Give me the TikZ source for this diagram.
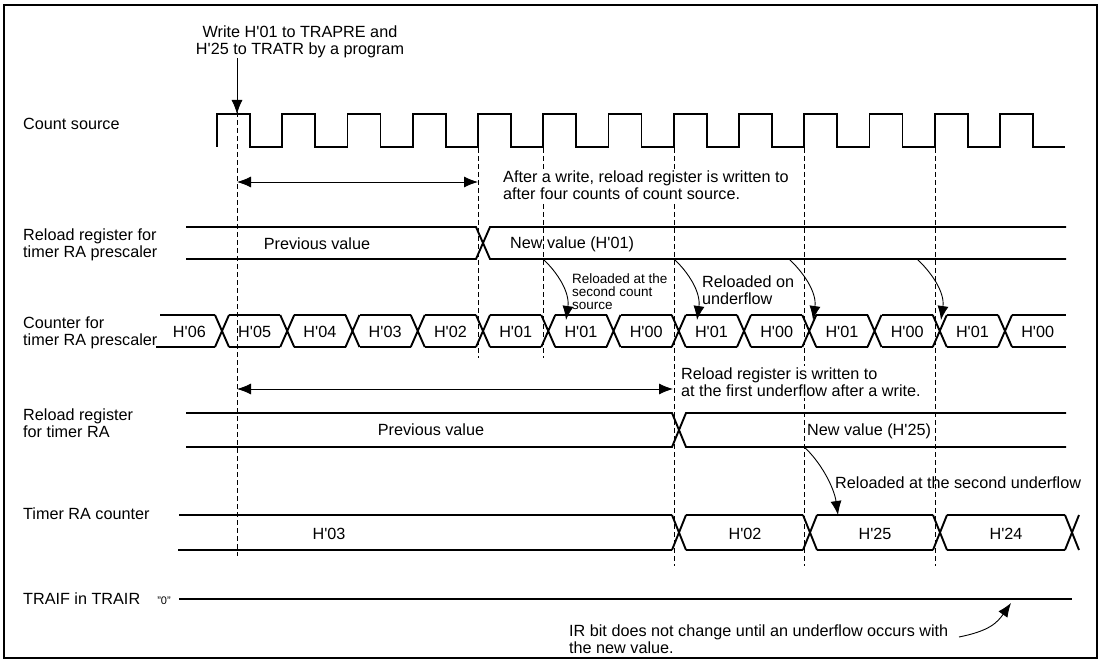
\documentclass[tikz,border=0pt]{standalone}
\usepackage{fontspec}
\setmainfont{Liberation Sans}
\usetikzlibrary{arrows.meta}
\newcommand{\hx}[1]{H\textquotesingle#1}

\begin{document}
\begin{tikzpicture}[x=1pt, y=-1pt, every node/.style={font=\fontsize{16.2}{17}\selectfont, inner sep=0pt, align=left}, >={Latex[length=14pt,width=11pt]}, wave/.style={line width=1.9pt}, guide/.style={line width=0.8pt, dash pattern=on 5pt off 3pt}, note/.style={line width=0.9pt}, small/.style={font=\fontsize{13.5}{13}\selectfont}, cover/.style={fill=white, inner sep=2pt}]
	\useasboundingbox (0,0) rectangle (1103,663);
	\draw[line width=2.6pt] (4,5) rectangle (1097,658);
	\node[anchor=west] (lcs) at (23,124) {Count source};
	\node[anchor=west] (lrp) at (23,245) {Reload register for\\timer RA prescaler};
	\node[anchor=west] (lcp) at (23,333) {Counter for\\timer RA prescaler};
	\node[anchor=west] (lra) at (23,423) {Reload register\\for timer RA};
	\node[anchor=west] (ltc) at (23,514) {Timer RA counter};
	\node[anchor=west] (lif) at (23,599) {TRAIF in TRAIR};
	\foreach \x/\a/\b in {237/88/556, 478/148/358, 543/148/358, 674/148/566, 804/148/566, 935/148/566}
		\draw[guide] (\x,\a) -- (\x,\b);
	\draw[wave] (217,147) \foreach \k in {0,...,12} {-- ({217+65.25*\k},114) -- ({250+65.25*\k},114) -- ({250+65.25*\k},147) -- ({282.25+65.25*\k},147)};
	\draw[wave] (156,347) -- (215,347) (160,315) -- (215,315);
	\foreach \k in {0,...,12}
		\draw[wave] ({215+65.25*\k},315) -- ({229+65.25*\k},347) ({215+65.25*\k},347) -- ({229+65.25*\k},315);
	\foreach \k in {0,...,11}
		\draw[wave] ({229+65.25*\k},315) -- ({280.25+65.25*\k},315) ({229+65.25*\k},347) -- ({280.25+65.25*\k},347);
	\draw[wave] (1012,315) -- (1066,315) (1012,347) -- (1066,347);
	\foreach \v [count=\i from 0] in {06,05,04,03,02,01,01,00,01,00,01,00,01,00}
		\node (cnt\i) at ({189.4+65.25*\i},332) {\hx{\v}};
	\draw[wave] (186,227) -- (476,227) -- (490,259) -- (1066,259) (186,259) -- (476,259) -- (490,227) -- (1066,227);
	\node (rpold) at (317,244) {Previous value};
	\node[anchor=west] (rpnew) at (510,244) {New value (\hx{01})};
	\draw[wave] (186,413) -- (672,413) -- (686,447) -- (1066,447) (186,447) -- (672,447) -- (686,413) -- (1066,413);
	\node (raold) at (431,430) {Previous value};
	\node[anchor=west] (ranew) at (807,431) {New value (\hx{25})};
	\draw[wave] (179,515) -- (672,515) (178,550) -- (672,550);
	\foreach \c in {679,810,940,1072}
		\draw[wave] ({\c-7},515) -- ({\c+7},550) ({\c-7},550) -- ({\c+7},515);
	\foreach \a/\b in {679/810, 810/940, 940/1072}
		\draw[wave] ({\a+7},515) -- ({\b-7},515) ({\a+7},550) -- ({\b-7},550);
	\foreach \v/\x [count=\i] in {03/329, 02/745, 25/875, 24/1006}
		\node (tc\i) at (\x,534) {\hx{\v}};
	\draw[wave] (179,599) -- (1072,599);
	\node[font=\fontsize{11}{12}\selectfont] (zero) at (164,601) {"0"};
	\node[align=center] (wrtxt) at (300,42) {Write \hx{01} to TRAPRE and\\\hx{25} to TRATR by a program};
	\coordinate (wr) at (237,114);
	\draw[note,->] (wrtxt.south -| wr) -- (wr);
	\coordinate (ws) at (237,182);
	\coordinate (we) at (478,182);
	\draw[note,<->] (ws) -- (we);
	\node[cover,anchor=west] (aftxt) at (501,185) {After a write, reload register is written to\\after four counts of count source.};
	\coordinate (us) at (237,389);
	\coordinate (ue) at (673,389);
	\draw[note,<->] (us) -- (ue);
	\node[cover,anchor=west] (uftxt) at (679,382) {Reload register is written to\\at the first underflow after a write.};
	\node[small,anchor=west] (rl1) at (572,292) {Reloaded at the\\second count\\source};
	\node[anchor=west] (rl2) at (702,290) {Reloaded on\\underflow};
	\node[anchor=west] (rl3) at (835,483) {Reloaded at the second underflow};
	\node[anchor=west] (irtxt) at (569,639) {IR bit does not change until an underflow occurs with\\the new value.};
	\foreach \s/\e [count=\i] in {543/566, 674/697, 789/813, 917/941} {
		\coordinate (rs\i) at (\s,259);
		\coordinate (re\i) at (\e,320);
		\draw[note,->] (rs\i) .. controls +(14,13) and +(4,-28) .. (re\i);
	}
	\coordinate (es) at (804,447);
	\coordinate (ee) at (838,515);
	\draw[note,->] (es) .. controls +(16,14) and +(-4,-28) .. (ee);
	\coordinate (fs) at (959,637);
	\coordinate (fe) at (1011,603);
	\draw[note,->] (fs) .. controls +(30,-6) and +(-14,20) .. (fe);
\end{tikzpicture}
\end{document}
